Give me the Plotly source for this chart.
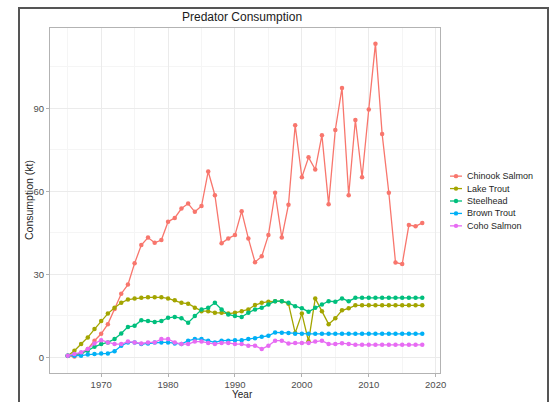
import plotly.graph_objects as go

# Annual predator consumption (kilotonnes), 1965-2018
years = list(range(1965, 2019))

chinook_salmon = [
    0.5, 0.3, 1.5, 3.0, 6.0, 8.5, 12.0, 17.5, 23.0, 26.3,
    34.0, 40.6, 43.3, 41.4, 42.4, 49.0, 50.4, 53.8, 55.6, 52.6,
    54.7, 67.2, 58.6, 41.2, 43.0, 44.2, 52.8, 43.0, 34.4, 36.5,
    44.2, 59.5, 43.3, 55.2, 83.9, 65.1, 72.3, 67.9, 80.3, 55.3,
    82.2, 97.4, 58.6, 85.8, 65.1, 89.6, 113.4, 80.7, 59.5, 34.3,
    33.7, 47.8, 47.4, 48.6,
]
lake_trout = [
    0.6, 2.4, 4.8, 7.2, 10.2, 13.1, 15.8, 17.9, 19.7, 20.9,
    21.3, 21.5, 21.7, 21.7, 21.7, 21.3, 20.6, 19.7, 19.4, 17.9,
    16.7, 16.7, 16.1, 16.1, 15.8, 16.1, 16.7, 17.3, 18.9, 19.7,
    20.1, 20.3, 20.3, 19.4, 8.8, 15.8, 5.8, 21.3, 16.7, 12.0,
    14.1, 17.0, 17.7, 18.8, 18.8, 18.8, 18.8, 18.8, 18.8, 18.8,
    18.8, 18.8, 18.8, 18.8,
]
steelhead = [
    0.6, 1.0, 1.4, 2.4, 3.8, 4.8, 5.4, 6.6, 8.6, 11.0,
    11.4, 13.4, 13.1, 12.8, 13.1, 14.3, 14.6, 14.1, 12.5, 14.9,
    17.3, 17.9, 19.7, 17.3, 15.5, 14.9, 14.6, 16.1, 17.3, 17.9,
    19.1, 20.3, 20.3, 19.7, 18.5, 17.7, 16.5, 17.9, 19.1, 20.3,
    20.1, 21.3, 20.3, 21.5, 21.5, 21.5, 21.5, 21.5, 21.5, 21.5,
    21.5, 21.5, 21.5, 21.5,
]
brown_trout = [
    0.6, 0.6, 0.6, 1.0, 1.2, 1.4, 1.4, 2.2, 4.2, 5.4,
    5.4, 4.8, 5.0, 5.4, 5.4, 5.4, 5.0, 4.8, 6.0, 6.6,
    6.6, 6.0, 5.4, 6.0, 6.0, 6.2, 6.2, 6.6, 6.9, 7.4,
    7.8, 9.0, 8.9, 8.8, 8.5, 8.5, 8.5, 8.5, 8.5, 8.5,
    8.5, 8.5, 8.5, 8.5, 8.5, 8.5, 8.5, 8.5, 8.5, 8.5,
    8.5, 8.5, 8.5, 8.5,
]
coho_salmon = [
    0.6, 1.2, 1.8, 3.0, 5.0, 6.2, 5.4, 4.8, 4.8, 5.7,
    5.4, 5.0, 5.4, 5.4, 6.6, 6.6, 5.4, 4.8, 4.8, 5.7,
    5.7, 5.2, 4.8, 5.2, 5.2, 4.8, 4.8, 4.2, 4.2, 3.0,
    4.2, 6.0, 6.0, 5.0, 5.2, 5.2, 5.2, 5.7, 6.0, 4.8,
    4.8, 5.1, 4.8, 4.5, 4.5, 4.5, 4.5, 4.5, 4.5, 4.5,
    4.5, 4.5, 4.5, 4.5,
]

series_names = ["Chinook Salmon", "Lake Trout", "Steelhead", "Brown Trout", "Coho Salmon"]
series_values = [chinook_salmon, lake_trout, steelhead, brown_trout, coho_salmon]
series_colors = ["#F8766D", "#A3A500", "#00BF7D", "#00B0F6", "#E76BF3"]

x_ticks = [1970, 1980, 1990, 2000, 2010, 2020]
y_ticks = [0, 30, 60, 90]

# Panel geometry in pixels (553 x 402 canvas)
W, H = 553, 402
PL, PR, PT, PB = 50, 440, 28, 375


def px(x):
    return (x - PL) / (PR - PL)


def py(y):
    return (PB - y) / (PB - PT)


FONT = "Liberation Sans, Arial, sans-serif"

fig = go.Figure()
for name, vals, col in zip(series_names, series_values, series_colors):
    fig.add_trace(go.Scatter(
        x=years, y=vals, name=name, mode="lines+markers",
        line=dict(color=col, width=1.3),
        marker=dict(color=col, size=4.5),
        showlegend=False,
    ))

# 5% padding on both axes
x_lo, x_hi = min(years), max(years)
x_pad = (x_hi - x_lo) * 0.05
y_hi = max(max(v) for v in series_values)
y_pad = y_hi * 0.05

grid = "#ebebeb"
minor_grid = "#f5f5f5"
axis_common = dict(
    showline=True, mirror=True, linecolor="#b3b3b3", linewidth=1,
    ticks="outside", ticklen=3, tickcolor="#b3b3b3", tickwidth=1,
    showgrid=True, gridcolor=grid, gridwidth=1, zeroline=False,
    tickfont=dict(family=FONT, size=9.5, color="#4d4d4d"),
)
fig.update_xaxes(
    range=[x_lo - x_pad, x_hi + x_pad], tickvals=x_ticks,
    minor=dict(tickvals=[t - 5 for t in x_ticks], showgrid=True, gridcolor=minor_grid, ticks=""),
    **axis_common,
)
fig.update_yaxes(
    range=[-y_pad, y_hi + y_pad], tickvals=y_ticks,
    minor=dict(tickvals=[t + 15 for t in y_ticks], showgrid=True, gridcolor=minor_grid, ticks=""),
    **axis_common,
)

shapes = []
annotations = []

# Outer frame
shapes.append(dict(
    type="rect", xref="paper", yref="paper",
    x0=px(19), x1=px(548), y0=py(415), y1=py(8),
    line=dict(color="#555555", width=2), fillcolor="rgba(0,0,0,0)", layer="above",
))

# Title and axis titles
annotations.append(dict(
    text="Predator Consumption", xref="paper", yref="paper",
    x=px(242), y=py(17), showarrow=False, xanchor="center", yanchor="middle",
    font=dict(family=FONT, size=12, color="#1a1a1a"),
))
annotations.append(dict(
    text="Year", xref="paper", yref="paper",
    x=px(242), y=py(397), showarrow=False, xanchor="center", yanchor="middle",
    font=dict(family=FONT, size=10, color="#262626"),
))
annotations.append(dict(
    text="Consumption (kt)", xref="paper", yref="paper",
    x=px(29), y=py(201), showarrow=False, textangle=-90,
    xanchor="center", yanchor="middle",
    font=dict(family=FONT, size=10.5, color="#262626"),
))

# Legend keys: short line with a point, followed by the label
for i, (name, col) in enumerate(zip(series_names, series_colors)):
    yy = 177 + i * 12.5
    shapes.append(dict(
        type="line", xref="paper", yref="paper",
        x0=px(450), x1=px(462), y0=py(yy), y1=py(yy),
        line=dict(color=col, width=1.3),
    ))
    shapes.append(dict(
        type="circle", xref="paper", yref="paper",
        x0=px(453.8), x1=px(458.2), y0=py(yy + 2.2), y1=py(yy - 2.2),
        line=dict(color=col, width=0), fillcolor=col,
    ))
    annotations.append(dict(
        text=name, xref="paper", yref="paper",
        x=px(465), y=py(yy), showarrow=False, xanchor="left", yanchor="middle",
        font=dict(family=FONT, size=9, color="#262626"),
    ))

fig.update_layout(
    width=W, height=H,
    margin=dict(l=PL, r=W - PR, t=PT, b=H - PB, pad=0),
    paper_bgcolor="white", plot_bgcolor="white",
    shapes=shapes, annotations=annotations,
    showlegend=False,
)

fig.write_html("out.html")
